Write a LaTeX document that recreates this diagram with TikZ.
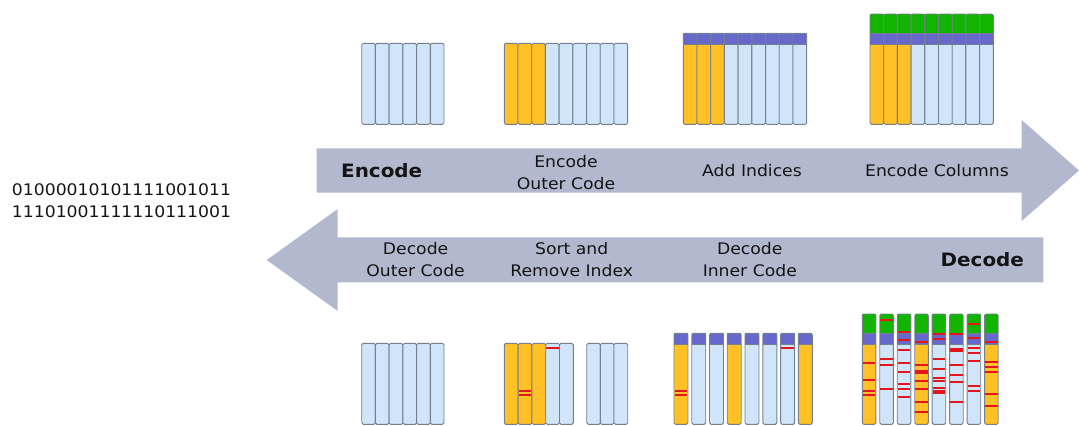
\documentclass[tikz,border=0pt]{standalone}
\usepackage{fontspec}
\setmainfont{DejaVu Sans}[FakeStretch=1.08]
\definecolor{arrowc}{RGB}{178,185,207}
\definecolor{lblue}{RGB}{208,228,250}
\definecolor{orng}{RGB}{255,193,37}
\definecolor{purp}{RGB}{102,104,204}
\definecolor{grn}{RGB}{17,181,0}
\definecolor{redl}{RGB}{228,22,28}
\definecolor{edgec}{RGB}{118,128,140}
\definecolor{txtc}{RGB}{20,20,20}
\tikzset{
  colst/.style={draw=edgec,line width=0.9bp},
  txt/.style={inner sep=0pt,align=center,text=txtc,font=\fontsize{16}{21.7}\selectfont},
  btxt/.style={inner sep=0pt,align=center,text=txtc,font=\fontsize{18.5}{22}\selectfont\bfseries},
  errline/.style={draw=redl,line width=2bp}
}
% plain column: x, width, ytop, ybottom, colour
\newcommand{\plaincol}[5]{%
  \draw[colst,fill=#5,rounded corners=1.5bp] (#1,#3) rectangle ({#1+#2},#4);}
% column with index cell: x, width, ytop(purple), ybottom, body colour
\newcommand{\idxcol}[5]{%
  \fill[#5] (#1,{#3+10.7}) rectangle ({#1+#2},#4);
  \fill[purp] (#1,#3) rectangle ({#1+#2},{#3+10.7});
  \draw[colst] (#1,{#3+10.7}) -- ({#1+#2},{#3+10.7});
  \draw[colst,rounded corners=1.5bp] (#1,#3) rectangle ({#1+#2},#4);}
% column with inner-code cell: x, width, ytop(green), ybottom, body colour
\newcommand{\fullcol}[5]{%
  \fill[#5] (#1,{#3+30}) rectangle ({#1+#2},#4);
  \fill[purp] (#1,{#3+19.5}) rectangle ({#1+#2},{#3+30});
  \fill[grn] (#1,#3) rectangle ({#1+#2},{#3+19.5});
  \draw[colst] (#1,{#3+19.5}) -- ({#1+#2},{#3+19.5});
  \draw[colst] (#1,{#3+30}) -- ({#1+#2},{#3+30});
  \draw[colst,rounded corners=1.5bp] (#1,#3) rectangle ({#1+#2},#4);}
\newcommand{\errmark}[3]{% x, width, y
  \draw[errline] ({#1+0.6},#3) -- ({#1+#2-0.6},#3);}
\begin{document}
\begin{tikzpicture}[x=1bp,y=-1bp]
\useasboundingbox (0,0) rectangle (1079,425);
% arrows
\fill[arrowc] (316.7,148.3) -- (1021.7,148.3) -- (1021.7,120) -- (1079,170.5)
  -- (1021.7,221) -- (1021.7,192.7) -- (316.7,192.7) -- cycle;
\fill[arrowc] (1043.3,237.3) -- (337.7,237.3) -- (337.7,209) -- (266.7,260)
  -- (337.7,311) -- (337.7,282.3) -- (1043.3,282.3) -- cycle;
% texts
\node[txt] (bin) at (121.5,200.5) {01000010101111001011\\11101001111110111001};
\node[btxt] (enc) at (381.7,170.5) {Encode};
\node[txt] (eoc) at (566,172.5) {Encode\\Outer Code};
\node[txt] (ai) at (752,170.5) {Add Indices};
\node[txt] (ec) at (937,170.5) {Encode Columns};
\node[txt] (doc) at (415.6,259.5) {Decode\\Outer Code};
\node[txt] (sr) at (571.7,259.5) {Sort and\\Remove Index};
\node[txt] (dic) at (749.8,259.5) {Decode\\Inner Code};
\node[btxt] (dec) at (982.3,260) {Decode};
% ---- top row ----
\foreach \i in {0,...,5} {\plaincol{361.7+\i*13.72}{13.72}{43.3}{124.3}{lblue}}
\foreach \i in {0,...,8} {
  \pgfmathsetmacro{\cc}{\i<3 ? "orng" : "lblue"}
  \plaincol{504.3+\i*13.71}{13.71}{43.3}{124.3}{\cc}}
\foreach \i in {0,...,8} {
  \pgfmathsetmacro{\cc}{\i<3 ? "orng" : "lblue"}
  \idxcol{683.3+\i*13.71}{13.71}{33.3}{124.3}{\cc}}
\foreach \i in {0,...,8} {
  \pgfmathsetmacro{\cc}{\i<3 ? "orng" : "lblue"}
  \fullcol{870+\i*13.7}{13.7}{14}{124.3}{\cc}}
% ---- bottom row ----
\foreach \i in {0,...,5} {\plaincol{361.7+\i*13.72}{13.72}{343.3}{424.3}{lblue}}
\foreach \i in {0,...,4} {
  \pgfmathsetmacro{\cc}{\i<3 ? "orng" : "lblue"}
  \plaincol{504.3+\i*13.8}{13.8}{343.3}{424.3}{\cc}}
\foreach \i in {0,...,2} {\plaincol{586.7+\i*13.67}{13.67}{343.3}{424.3}{lblue}}
\errmark{518.1}{13.8}{391}
\errmark{518.1}{13.8}{395}
\errmark{545.7}{13.8}{348.3}
% decode inner code
\foreach \i/\cc in {0/orng,1/lblue,2/lblue,3/orng,4/lblue,5/lblue,6/lblue,7/orng} {
  \idxcol{674+\i*17.76}{14}{333.3}{424.3}{\cc}}
\errmark{674}{14}{391}
\errmark{674}{14}{395}
\errmark{780.6}{14}{348.3}
% received columns with errors
\foreach \i/\cc in {0/orng,1/lblue,2/lblue,3/orng,4/lblue,5/lblue,6/lblue,7/orng} {
  \fullcol{862.3+\i*17.47}{13.6}{314}{424.3}{\cc}}
\foreach \i/\ys in {0/{363,380,390.7,395.3},
                    1/{319.7,358.7,364.7,389},
                    2/{332,339.7,350,363,371.7,384,389,397},
                    3/{342,364.7,370.5,372.5,380.7,389,402.3,412.3},
                    4/{333.7,338.7,359,369,378,380.7,388.3,391,392.7},
                    5/{333.7,348.7,351,364.7,374.7,382,402},
                    6/{324,338,348,352.7,361.3,386,390.7},
                    7/{342,362,367.3,372,394,405.7}} {
  \foreach \y in \ys {\errmark{862.3+\i*17.47}{13.6}{\y}}}
\end{tikzpicture}
\end{document}
